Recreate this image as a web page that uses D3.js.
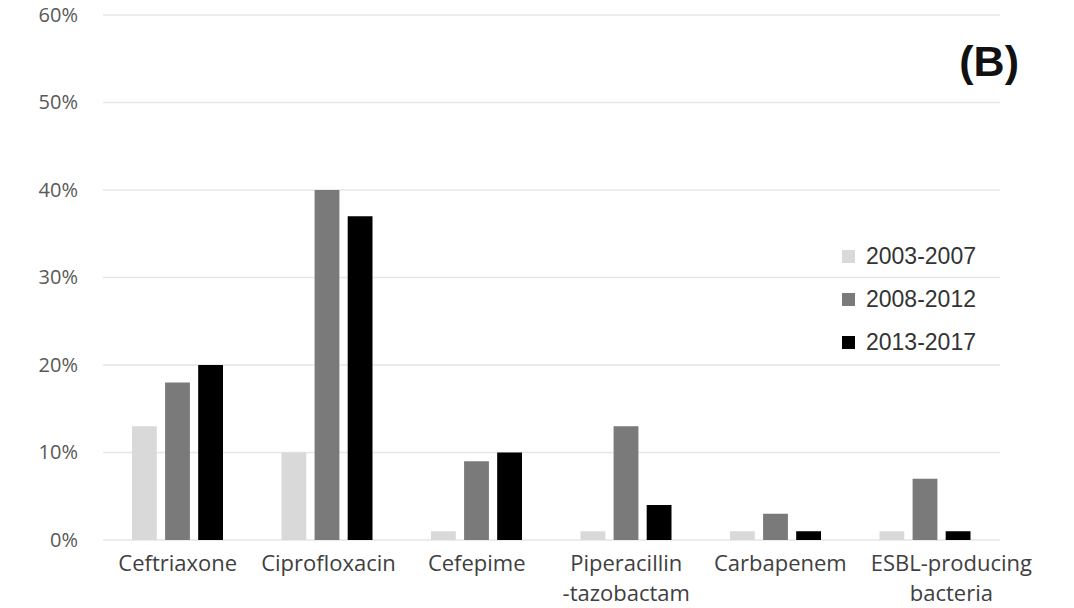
<!DOCTYPE html>
<html>
<head>
<meta charset="utf-8">
<script src="https://cdn.jsdelivr.net/npm/d3@7"></script>
<style>
  body { margin: 0; background: #fff; }
  svg { display: block; }
</style>
</head>
<body>
<div id="chart"></div>
<script>
// antibiotic resistance rates by period, panel (B)
var categories = ["Ceftriaxone", "Ciprofloxacin", "Cefepime", "Piperacillin\n-tazobactam", "Carbapenem", "ESBL-producing\nbacteria"];
var periods = ["2003-2007", "2008-2012", "2013-2017"];
var rates2003 = [13, 10, 1, 1, 1, 1];
var rates2008 = [18, 40, 9, 13, 3, 7];
var rates2013 = [20, 37, 10, 4, 1, 1];
var yTicks = [0, 10, 20, 30, 40, 50, 60];
var colors = ["#d9d9d9", "#7a7a7a", "#000000"];

var W = 1074, H = 608;
var plotLeft = 103, plotRight = 1000, plotTop = 15, plotBottom = 540;

var svg = d3.select("#chart").append("svg")
  .attr("width", W).attr("height", H);

var y = d3.scaleLinear().domain([0, 60]).range([plotBottom, plotTop]);
var x0 = d3.scaleBand().domain(categories).range([plotLeft, plotRight]).padding(0);
var x1 = d3.scaleBand().domain(periods).range([29, 120]).paddingInner(0.25);

var series = [rates2003, rates2008, rates2013];

// gridlines
svg.append("g")
  .selectAll("line")
  .data(yTicks)
  .enter().append("line")
    .attr("x1", plotLeft).attr("x2", plotRight)
    .attr("y1", d => y(d)).attr("y2", d => y(d))
    .attr("stroke", "#e6e6e6")
    .attr("stroke-width", 1.5);

// y axis labels
var yAxis = d3.axisLeft(y).tickValues(yTicks).tickFormat(d => d + "%").tickSize(0).tickPadding(0);
var gy = svg.append("g").attr("transform", "translate(78,0)").call(yAxis);
gy.select(".domain").remove();
gy.selectAll("text")
  .attr("font-family", "'Open Sans', sans-serif")
  .attr("font-size", 20)
  .attr("fill", "#595959");

// bars
var groups = svg.append("g").selectAll("g")
  .data(categories)
  .enter().append("g")
    .attr("transform", d => "translate(" + x0(d) + ",0)");

groups.selectAll("rect")
  .data((d, i) => periods.map((p, j) => ({ period: p, value: series[j][i], color: colors[j] })))
  .enter().append("rect")
    .attr("x", d => x1(d.period))
    .attr("width", x1.bandwidth())
    .attr("y", d => y(d.value))
    .attr("height", d => y(0) - y(d.value))
    .attr("fill", d => d.color);

// category labels
var xl = svg.append("g").selectAll("text")
  .data(categories)
  .enter().append("text")
    .attr("x", d => x0(d) + x0.bandwidth() / 2)
    .attr("y", 571)
    .attr("text-anchor", "middle")
    .attr("font-family", "'Open Sans', sans-serif")
    .attr("font-size", 22)
    .attr("fill", "#404040");
xl.each(function(d) {
  var lines = d.split("\n");
  var t = d3.select(this);
  lines.forEach(function(l, i) {
    t.append("tspan")
      .attr("x", x0(d) + x0.bandwidth() / 2)
      .attr("dy", i == 0 ? 0 : 30)
      .text(l);
  });
});

// push labels right if they crowd the previous one (like the original does)
var prevRight = -Infinity;
xl.each(function() {
  var b = this.getBBox();
  var shift = 0;
  if (b.x < prevRight + 24) shift = prevRight + 24 - b.x;
  if (shift > 0) d3.select(this).attr("transform", "translate(" + shift + ",0)");
  prevRight = b.x + b.width + shift;
});

// legend
var legend = svg.append("g").attr("transform", "translate(842,256)");
var items = legend.selectAll("g")
  .data(periods)
  .enter().append("g")
    .attr("transform", (d, i) => "translate(0," + (i * 43) + ")");
items.append("rect")
  .attr("x", 0).attr("y", -6).attr("width", 13).attr("height", 13)
  .attr("fill", (d, i) => colors[i]);
items.append("text")
  .attr("x", 24).attr("y", 8)
  .attr("font-family", "'Liberation Sans', Arial, sans-serif")
  .attr("font-size", 23)
  .attr("fill", "#333")
  .text(d => d);

// panel label
svg.append("text")
  .attr("x", 1019).attr("y", 76)
  .attr("text-anchor", "end")
  .attr("font-family", "'Liberation Sans', Arial, sans-serif")
  .attr("font-weight", "bold")
  .attr("font-size", 43)
  .attr("fill", "#111")
  .text("(B)");
</script>
</body>
</html>
